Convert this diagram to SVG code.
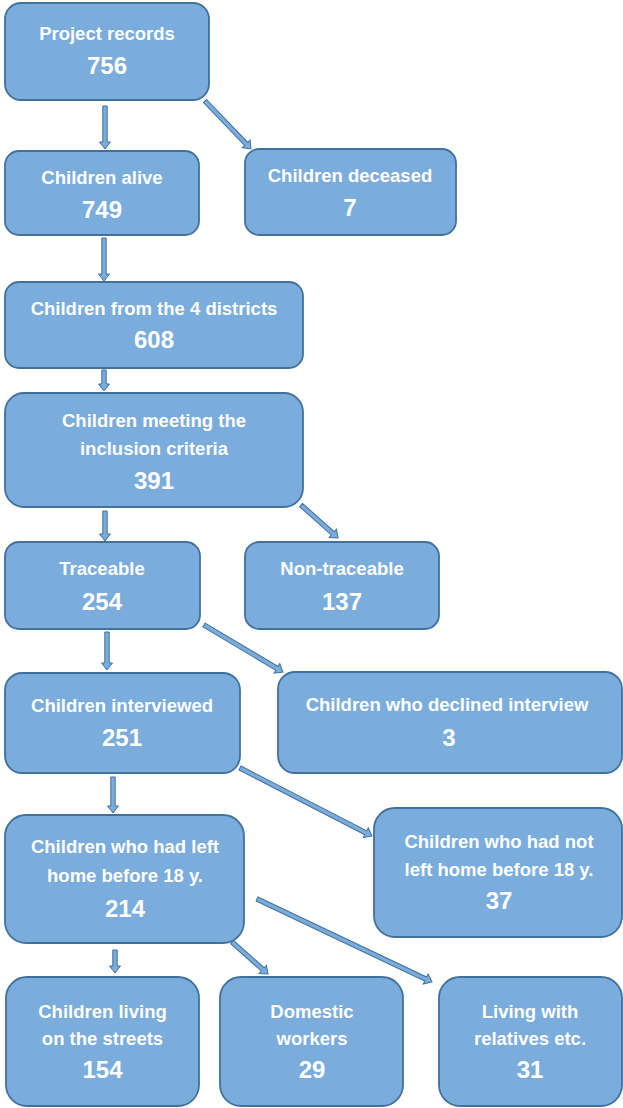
<svg xmlns="http://www.w3.org/2000/svg" width="623" height="1108" viewBox="0 0 623 1108">
<style>
.box{fill:#7aacdc;stroke:#41719c;stroke-width:1.8}
.lbl{font-family:"Liberation Sans",Arial,sans-serif;font-weight:bold;font-size:18.5px;fill:#fff;text-anchor:middle}
.num{font-family:"Liberation Sans",Arial,sans-serif;font-weight:bold;font-size:24px;fill:#fff;text-anchor:middle}
.arr{fill:#7aacdc;stroke:#41719c;stroke-width:1;stroke-linejoin:miter}
</style>
<rect width="623" height="1108" fill="#fff"/>
<g id="connectors">
<path class="arr" transform="translate(105,106) rotate(90)" d="M0,-2.2 H36 V-5.5 L43,0 L36,5.5 V2.2 H0 Z"/>
<path class="arr" transform="translate(205,101) rotate(46.2)" d="M0,-2.2 H59.5 V-5.5 L66.5,0 L59.5,5.5 V2.2 H0 Z"/>
<path class="arr" transform="translate(104,238) rotate(90)" d="M0,-2.2 H36 V-5.5 L43,0 L36,5.5 V2.2 H0 Z"/>
<path class="arr" transform="translate(104,370) rotate(90)" d="M0,-2.2 H14 V-5.5 L21,0 L14,5.5 V2.2 H0 Z"/>
<path class="arr" transform="translate(105,511) rotate(90)" d="M0,-2.2 H23 V-5.5 L30,0 L23,5.5 V2.2 H0 Z"/>
<path class="arr" transform="translate(301,505) rotate(41.7)" d="M0,-2.2 H42.6 V-5.5 L49.6,0 L42.6,5.5 V2.2 H0 Z"/>
<path class="arr" transform="translate(107,632) rotate(90)" d="M0,-2.2 H31 V-5.5 L38,0 L31,5.5 V2.2 H0 Z"/>
<path class="arr" transform="translate(204,625) rotate(30.75)" d="M0,-2.2 H84.9 V-5.5 L91.9,0 L84.9,5.5 V2.2 H0 Z"/>
<path class="arr" transform="translate(113,777) rotate(90)" d="M0,-2.2 H29 V-5.5 L36,0 L29,5.5 V2.2 H0 Z"/>
<path class="arr" transform="translate(240,768) rotate(27.25)" d="M0,-2.2 H141.5 V-5.5 L148.5,0 L141.5,5.5 V2.2 H0 Z"/>
<path class="arr" transform="translate(115,950) rotate(90)" d="M0,-2.2 H16 V-5.5 L23,0 L16,5.5 V2.2 H0 Z"/>
<path class="arr" transform="translate(232,942) rotate(41.6)" d="M0,-2.2 H41.2 V-5.5 L48.2,0 L41.2,5.5 V2.2 H0 Z"/>
<path class="arr" transform="translate(257,899) rotate(25.37)" d="M0,-2.2 H186.7 V-5.5 L193.7,0 L186.7,5.5 V2.2 H0 Z"/>
</g>
<g id="n1"><rect class="box" x="5" y="3" width="204" height="97" rx="16"/><text class="lbl" x="107" y="40">Project records</text><text class="num" x="107" y="74">756</text></g>
<g id="n2"><rect class="box" x="5" y="151" width="194" height="84" rx="14"/><text class="lbl" x="102" y="184">Children alive</text><text class="num" x="102" y="218">749</text></g>
<g id="n3"><rect class="box" x="245" y="149" width="211" height="86" rx="14"/><text class="lbl" x="350" y="182">Children deceased</text><text class="num" x="350" y="216">7</text></g>
<g id="n4"><rect class="box" x="5" y="282" width="298" height="86" rx="14"/><text class="lbl" x="154" y="315">Children from the 4 districts</text><text class="num" x="154" y="348">608</text></g>
<g id="n5"><rect class="box" x="5" y="393" width="298" height="114" rx="19"/><text class="lbl" x="154" y="427">Children meeting the</text><text class="lbl" x="154" y="455">inclusion criteria</text><text class="num" x="154" y="489">391</text></g>
<g id="n6"><rect class="box" x="5" y="542" width="195" height="87" rx="14"/><text class="lbl" x="102" y="575">Traceable</text><text class="num" x="102" y="610">254</text></g>
<g id="n7"><rect class="box" x="245" y="542" width="194" height="87" rx="14"/><text class="lbl" x="342" y="575">Non-traceable</text><text class="num" x="342" y="610">137</text></g>
<g id="n8"><rect class="box" x="5" y="673" width="235" height="100" rx="17"/><text class="lbl" x="122" y="712">Children interviewed</text><text class="num" x="122" y="746">251</text></g>
<g id="n9"><rect class="box" x="278" y="672" width="344" height="101" rx="17"/><text class="lbl" x="447" y="711">Children who declined interview</text><text class="num" x="449" y="746">3</text></g>
<g id="n10"><rect class="box" x="5" y="815" width="239" height="128" rx="21"/><text class="lbl" x="125" y="853">Children who had left</text><text class="lbl" x="125" y="882">home before 18 y.</text><text class="num" x="125" y="917">214</text></g>
<g id="n11"><rect class="box" x="374" y="808" width="248" height="129" rx="21"/><text class="lbl" x="499" y="848">Children who had not</text><text class="lbl" x="499" y="876">left home before 18 y.</text><text class="num" x="499" y="909">37</text></g>
<g id="n12"><rect class="box" x="6" y="977" width="193" height="129" rx="21"/><text class="lbl" x="102.5" y="1018">Children living</text><text class="lbl" x="102.5" y="1045">on the streets</text><text class="num" x="102.5" y="1078">154</text></g>
<g id="n13"><rect class="box" x="220" y="977" width="183" height="129" rx="21"/><text class="lbl" x="312" y="1018">Domestic</text><text class="lbl" x="312" y="1045">workers</text><text class="num" x="312" y="1078">29</text></g>
<g id="n14"><rect class="box" x="439" y="977" width="183" height="129" rx="21"/><text class="lbl" x="530" y="1018">Living with</text><text class="lbl" x="530" y="1045">relatives etc.</text><text class="num" x="530" y="1078">31</text></g>
</svg>
